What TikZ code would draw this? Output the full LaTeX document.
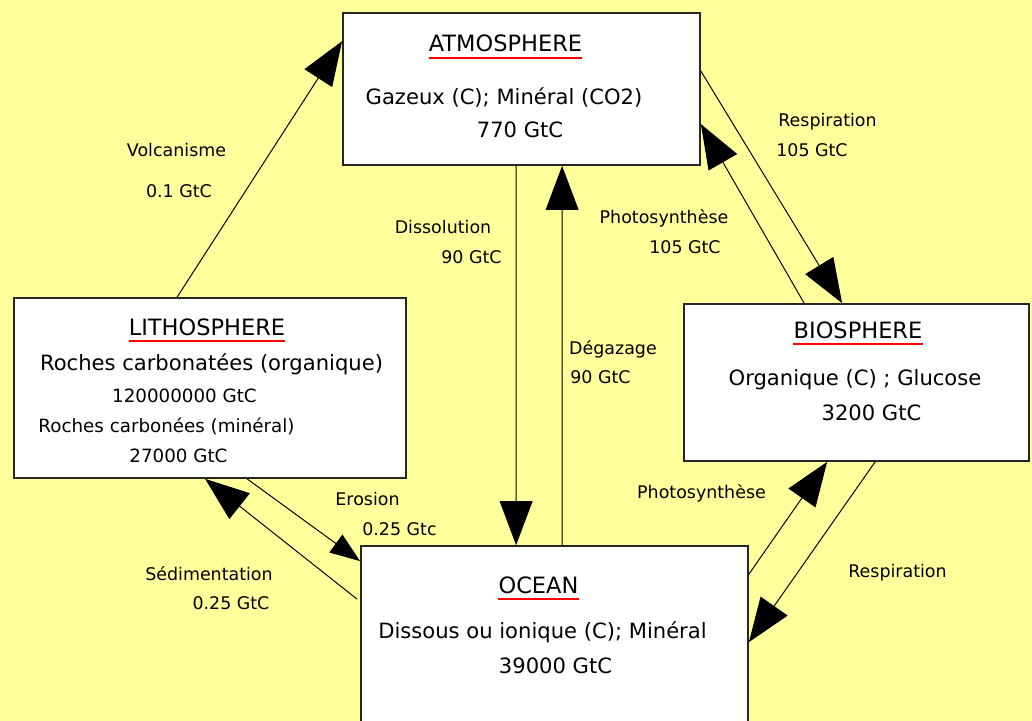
\documentclass[tikz,border=0pt]{standalone}
\usepackage{fontspec}
\setmainfont{DejaVu Sans}
\usetikzlibrary{arrows.meta,calc}

\definecolor{fond}{HTML}{FFFF9C}

\tikzset{
	reservoir/.style={draw=black!85,line width=1.2pt,fill=white,inner sep=0pt},
	titre/.style={anchor=base,inner sep=0pt,font=\fontsize{16}{19}\selectfont},
	texte/.style={anchor=base,inner sep=0pt,font=\fontsize{15}{18}\selectfont},
	petit/.style={anchor=base,inner sep=0pt,font=\fontsize{13}{16}\selectfont},
	lbl/.style={anchor=base,inner sep=0pt,font=\fontsize{12.4}{15}\selectfont},
	souligne/.style={red,line width=1.3pt},
	flux/.style={line width=0.7pt,-{Triangle[length=1.1cm,width=0.82cm]}},
	fluxpetit/.style={line width=0.7pt,-{Triangle[length=0.75cm,width=0.55cm]}},
}

\begin{document}
\begin{tikzpicture}[x=0.025cm,y=-0.025cm]
	\fill[fond] (0,0) rectangle (1032,721);
	\useasboundingbox (0,0) rectangle (1032,721);
	\clip (0,0) rectangle (1032,721);

	\node[reservoir,minimum width=8.925cm,minimum height=3.8cm] (atmo) at (521.5,89) {};
	\node[reservoir,minimum width=9.8cm,minimum height=4.5cm] (litho) at (210,388) {};
	\node[reservoir,minimum width=8.625cm,minimum height=3.925cm] (bio) at (856.5,382.5) {};
	\node[reservoir,minimum width=9.675cm,minimum height=4.75cm] (ocean) at (554.5,641) {};

	\node[titre] (atmottl) at (505.5,52) {ATMOSPHERE};
	\node[texte] (atmo1) at (504,105) {Gazeux (C); Minéral (CO2)};
	\node[texte] (atmo2) at (520,138) {770 GtC};

	\node[titre] (lithottl) at (207,335) {LITHOSPHERE};
	\node[texte] (litho1) at (211.5,370) {Roches carbonatées (organique)};
	\node[petit] (litho2) at (184.5,402) {120000000 GtC};
	\node[petit] (litho3) at (166.5,432) {Roches carbonées (minéral)};
	\node[petit] (litho4) at (178.5,462) {27000 GtC};

	\node[titre] (biottl) at (858,338) {BIOSPHERE};
	\node[texte] (bio1) at (855,385) {Organique (C) ; Glucose};
	\node[texte] (bio2) at (871.5,420) {3200 GtC};

	\node[titre] (oceanttl) at (538.5,593) {OCEAN};
	\node[texte] (ocean1) at (542.5,638) {Dissous ou ionique (C); Minéral};
	\node[texte] (ocean2) at (555.5,673) {39000 GtC};

	\foreach \t in {atmottl,lithottl,biottl,oceanttl}
		\draw[souligne] ([yshift=-4.5pt]\t.base west) -- ([yshift=-4.5pt]\t.base east);

	\draw[flux] ($(litho.north west)+(164,0)$) -- ($(atmo.north west)+(0,29)$);
	\draw[flux] ($(atmo.south west)+(174,0)$) -- ($(ocean.north west)+(156,0)$);
	\draw[flux] ($(ocean.north west)+(202,0)$) -- ($(atmo.south west)+(220,0)$);
	\draw[flux] ($(atmo.north east)+(0,59)$) -- ($(bio.north west)+(159,0)$);
	\draw[flux] ($(bio.north west)+(121,0)$) -- ($(atmo.north east)+(0,112)$);
	\draw[flux] ($(ocean.north east)+(0,29)$) -- ($(bio.south west)+(144,0)$);
	\draw[flux] ($(bio.south west)+(192,0)$) -- ($(ocean.north east)+(0,97)$);
	\draw[fluxpetit] ($(litho.south west)+(234,0)$) -- ($(ocean.north west)+(0,16)$);
	\draw[flux] ($(ocean.north west)+(-3,54)$) -- ($(litho.south west)+(192,0)$);

	\node[lbl] (volc) at (176.5,157) {Volcanisme};
	\node[lbl] (volcv) at (179,198) {0.1 GtC};
	\node[lbl] (diss) at (443,234) {Dissolution};
	\node[lbl] (dissv) at (471.5,264) {90 GtC};
	\node[lbl] (phot) at (664,224) {Photosynthèse};
	\node[lbl] (photv) at (685,254) {105 GtC};
	\node[lbl] (resp) at (827.5,127) {Respiration};
	\node[lbl] (respv) at (812,157) {105 GtC};
	\node[lbl] (degaz) at (613,354) {Dégazage};
	\node[lbl] (degazv) at (600.5,383) {90 GtC};
	\node[lbl] (eros) at (367.5,505) {Erosion};
	\node[lbl] (erosv) at (399.5,535) {0.25 Gtc};
	\node[lbl] (sedi) at (209,580) {Sédimentation};
	\node[lbl] (sediv) at (231,609) {0.25 GtC};
	\node[lbl] (photb) at (701.5,498) {Photosynthèse};
	\node[lbl] (respb) at (897.5,577) {Respiration};
\end{tikzpicture}
\end{document}
